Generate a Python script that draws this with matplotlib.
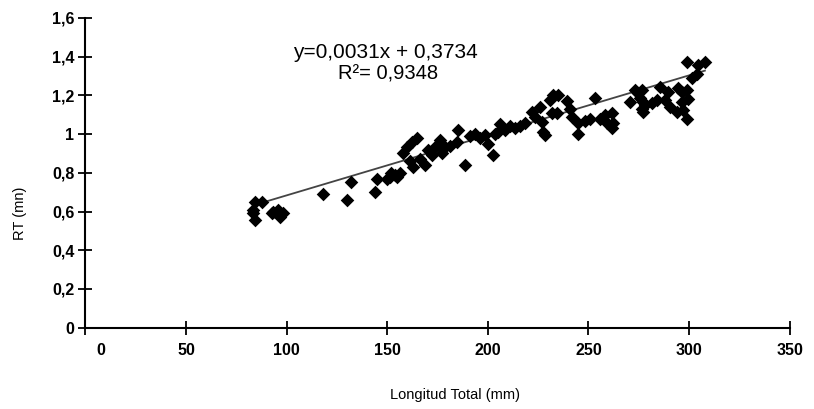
import numpy as np
import matplotlib
matplotlib.use('Agg')
import matplotlib.pyplot as plt
import matplotlib.transforms as mtransforms
from matplotlib.ticker import FuncFormatter

plt.rcParams['font.family'] = ['Liberation Sans', 'DejaVu Sans']

# longitud total (mm) vs RT (mn)
longitud = [84.2, 83.4, 84.2, 87.6, 83.5, 93.3, 95.8, 98.3, 96.7, 92.5,
            118.2, 129.8, 131.8, 143.9, 144.7, 149.7, 151.3, 153.8, 156.3, 152.0,
            155.0, 158.0, 159.6, 162.1, 164.6, 161.3, 162.9, 166.3, 168.7, 170.4,
            172.1, 173.7, 176.2, 177.0, 178.7, 181.2, 185.3, 184.5, 188.6, 191.1,
            193.6, 196.1, 198.6, 200.2, 202.7, 205.2, 203.5, 206.0, 208.5, 211.0,
            213.5, 216.0, 218.5, 221.8, 223.4, 225.9, 226.7, 227.5, 228.4, 230.9,
            232.5, 235.0, 231.7, 234.2, 239.2, 240.8, 241.6, 244.9, 244.9, 248.3,
            250.7, 253.2, 255.7, 258.2, 259.0, 261.5, 262.3, 261.5, 270.6, 273.1,
            274.7, 276.4, 275.6, 277.2, 276.4, 278.1, 277.2, 281.4, 283.9, 285.5,
            288.0, 289.7, 290.5, 293.8, 294.6, 296.3, 298.8, 299.6, 296.3, 297.1,
            298.8, 301.3, 303.8, 298.8, 304.6, 307.9]
rt = [0.65, 0.61, 0.556, 0.65, 0.59, 0.60, 0.61, 0.59, 0.57, 0.59,
      0.69, 0.66, 0.75, 0.70, 0.77, 0.77, 0.78, 0.79, 0.80, 0.80,
      0.78, 0.90, 0.935, 0.96, 0.98, 0.86, 0.83, 0.87, 0.84, 0.92,
      0.89, 0.935, 0.97, 0.90, 0.935, 0.94, 1.02, 0.96, 0.84, 0.99,
      1.00, 0.98, 0.995, 0.95, 0.89, 1.01, 1.00, 1.05, 1.02, 1.04,
      1.03, 1.04, 1.055, 1.115, 1.09, 1.14, 1.06, 1.01, 0.995, 1.176,
      1.20, 1.20, 1.11, 1.11, 1.17, 1.13, 1.09, 1.00, 1.055, 1.07,
      1.08, 1.185, 1.08, 1.10, 1.055, 1.11, 1.055, 1.03, 1.167, 1.23,
      1.21, 1.23, 1.185, 1.167, 1.13, 1.15, 1.115, 1.16, 1.176, 1.245,
      1.176, 1.22, 1.14, 1.115, 1.237, 1.22, 1.23, 1.18, 1.167, 1.125,
      1.08, 1.29, 1.31, 1.374, 1.357, 1.374]

pendiente = 0.0031
intercepto = 0.3734
x_ticks = [0, 50, 100, 150, 200, 250, 300, 350]
y_ticks = [0, 0.2, 0.4, 0.6, 0.8, 1.0, 1.2, 1.4, 1.6]

fig = plt.figure(figsize=(8.14, 4.09), dpi=100)
ax = fig.add_axes([0.105, 0.199, 0.865, 0.757])

ax.scatter(longitud, rt, marker='D', s=48, color='black', zorder=3, linewidths=0)

xl = np.array([min(longitud), max(longitud)])
ax.plot(xl, pendiente * xl + intercepto, color='#444444', lw=1.3, zorder=2)

ax.set_xlim(0, 350)
ax.set_ylim(0, 1.6)
ax.set_xticks(x_ticks)
ax.set_yticks(y_ticks)
ax.yaxis.set_major_formatter(FuncFormatter(lambda v, p: f"{v:g}".replace('.', ',')))
ax.xaxis.set_major_formatter(FuncFormatter(lambda v, p: f"{v:g}"))

for side in ['top', 'right']:
    ax.spines[side].set_visible(False)
for side in ['left', 'bottom']:
    ax.spines[side].set_linewidth(1.5)
ax.tick_params(direction='inout', length=10, width=1.3, labelsize=11.5)
ax.tick_params(axis='x', pad=6)
ax.tick_params(axis='y', pad=3)
for lab in ax.get_xticklabels() + ax.get_yticklabels():
    lab.set_fontweight('bold')

# the "0" under the x axis sits a bit to the right of its tick
lab0 = ax.get_xticklabels()[0]
lab0.set_transform(lab0.get_transform() + mtransforms.ScaledTranslation(15 / 100, 0, fig.dpi_scale_trans))

fig.text(0.025, 1 - 213 / 409, 'RT (mn)', rotation=90, ha='center', va='center', fontsize=10.5)
fig.text(455 / 814, 1 - 395 / 409, 'Longitud Total (mm)', ha='center', va='center', fontsize=10.5)

fig.text(293 / 814, 1 - 53 / 409, 'y=0,0031x + 0,3734', ha='left', va='center', fontsize=15)
fig.text(388 / 814, 1 - 74 / 409, 'R²= 0,9348', ha='center', va='center', fontsize=14.5)

fig.savefig('out.png', dpi=100)
